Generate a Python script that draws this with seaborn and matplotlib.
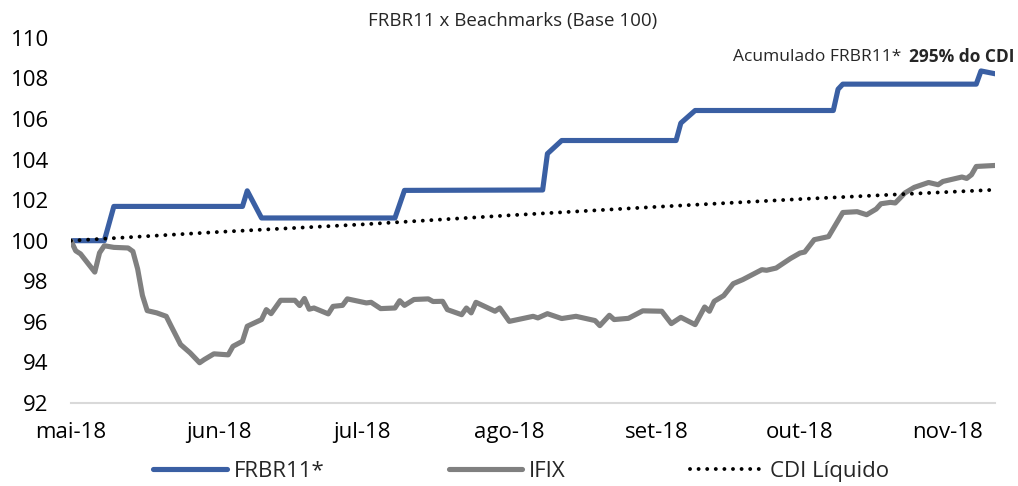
import pandas as pd
import matplotlib
matplotlib.use("Agg")
import matplotlib.pyplot as plt
import seaborn as sns

# Data (days counted from 2018-05-01)
START = "2018-05-01"

frbr_days = [0, 7, 9, 36, 37, 40, 68, 70, 99, 100, 103, 127, 128, 131,
             160, 161, 162, 190, 191, 194]
frbr_vals = [100.0, 100.0, 101.69, 101.69, 102.46, 101.12, 101.12, 102.48,
             102.5, 104.29, 104.94, 104.94, 105.8, 106.42, 106.42, 107.47,
             107.72, 107.72, 108.37, 108.23]

ifix_days = [0, 1, 2, 5, 6, 7, 9, 12, 13, 14, 15, 16, 18, 20, 21, 23, 25, 27,
             28, 30, 33, 34, 36, 37, 40, 41, 42, 44, 47, 48, 49, 50, 51, 54,
             55, 57, 58, 62, 63, 65, 68, 69, 70, 72, 75, 76, 78, 79, 82, 83,
             84, 85, 89, 90, 92, 97, 98, 100, 103, 106, 110, 111, 113, 114,
             117, 120, 124, 126, 128, 131, 133, 134, 135, 137, 139, 141, 145,
             146, 148, 151, 153, 154, 156, 159, 162, 165, 167, 169, 170, 172,
             173, 174, 175, 177, 180, 182, 183, 187, 188, 189, 190, 194]
ifix_vals = [100.0, 99.5, 99.35, 98.45, 99.4, 99.75, 99.67, 99.64, 99.47,
             98.6, 97.3, 96.55, 96.44, 96.27, 95.8, 94.88, 94.47, 93.98,
             94.14, 94.42, 94.37, 94.79, 95.04, 95.78, 96.11, 96.6, 96.4,
             97.06, 97.06, 96.8, 97.15, 96.62, 96.68, 96.39, 96.76, 96.81,
             97.13, 96.93, 96.96, 96.65, 96.68, 97.04, 96.81, 97.1, 97.13,
             97.0, 97.01, 96.6, 96.35, 96.68, 96.44, 96.96, 96.52, 96.68,
             96.02, 96.27, 96.19, 96.4, 96.16, 96.27, 96.06, 95.81, 96.32,
             96.11, 96.17, 96.54, 96.52, 95.91, 96.22, 95.86, 96.73, 96.52,
             97.01, 97.29, 97.88, 98.08, 98.57, 98.54, 98.65, 99.12, 99.39,
             99.44, 100.05, 100.2, 101.39, 101.43, 101.28, 101.56, 101.82,
             101.89, 101.86, 102.1, 102.35, 102.63, 102.87, 102.76, 102.92,
             103.14, 103.07, 103.25, 103.66, 103.71]

cdi_days = [0, 31, 61, 92, 123, 153, 184, 194]
cdi_vals = [100.0, 100.43, 100.8, 101.25, 101.67, 102.05, 102.4, 102.51]

month_starts = ["2018-05-01", "2018-06-01", "2018-07-01", "2018-08-01",
                "2018-09-01", "2018-10-01", "2018-11-01"]
month_labels = ["mai-18", "jun-18", "jul-18", "ago-18", "set-18", "out-18",
                "nov-18"]
y_ticks = [92, 94, 96, 98, 100, 102, 104, 106, 108, 110]


def to_dates(days):
    return pd.Timestamp(START) + pd.to_timedelta(days, unit="D")


frbr_df = pd.DataFrame({"date": to_dates(frbr_days), "value": frbr_vals})
ifix_df = pd.DataFrame({"date": to_dates(ifix_days), "value": ifix_vals})
cdi_df = pd.DataFrame({"date": to_dates(cdi_days), "value": cdi_vals})

sns.set_style("white")
plt.rcParams["font.family"] = ["Open Sans", "DejaVu Sans"]

fig = plt.figure(figsize=(10.18, 4.86), dpi=100)
ax = fig.add_axes([0.0697, 0.171, 0.908, 0.751])

sns.lineplot(data=frbr_df, x="date", y="value", ax=ax, color="#3A5FA3",
             linewidth=3.7, label="FRBR11*", solid_capstyle="round")
sns.lineplot(data=ifix_df, x="date", y="value", ax=ax, color="#808080",
             linewidth=3.7, label="IFIX", solid_capstyle="round")
sns.lineplot(data=cdi_df, x="date", y="value", ax=ax, color="black",
             linewidth=2.8, label="CDI Líquido",
             linestyle=(0, (0.01, 2.2)), dash_capstyle="round")

ax.set_xlim(pd.Timestamp(START), to_dates([194])[0])
ax.set_ylim(92, 110)
ax.set_yticks(y_ticks)
ax.set_xticks(pd.to_datetime(month_starts))
ax.set_xticklabels(month_labels)
ax.tick_params(axis="both", labelsize=16, length=0, colors="black")
ax.tick_params(axis="x", pad=14)
ax.tick_params(axis="y", pad=16)
ax.set_xlabel("")
ax.set_ylabel("")
for side in ["top", "right", "left"]:
    ax.spines[side].set_visible(False)
ax.spines["bottom"].set_color("#d9d9d9")
ax.spines["bottom"].set_linewidth(1.5)
ax.grid(False)

fig.text(0.504, 0.957, "FRBR11 x Beachmarks (Base 100)", ha="center",
         va="center", fontsize=13.5)
fig.text(0.885, 0.883, "Acumulado FRBR11*", ha="right", va="center",
         fontsize=12.5)
fig.text(0.997, 0.883, "295% do CDI", ha="right", va="center",
         fontsize=12.5, fontweight="bold")

ax.get_legend().remove()
handles, labels = ax.get_legend_handles_labels()
fig.legend(handles, labels, loc="center", bbox_to_anchor=(0.512, 0.03),
           ncol=3, frameon=False, fontsize=16, handlelength=3.3,
           handletextpad=0.3, columnspacing=5.6, borderpad=0.1)

plt.savefig("out.png", dpi=100)
